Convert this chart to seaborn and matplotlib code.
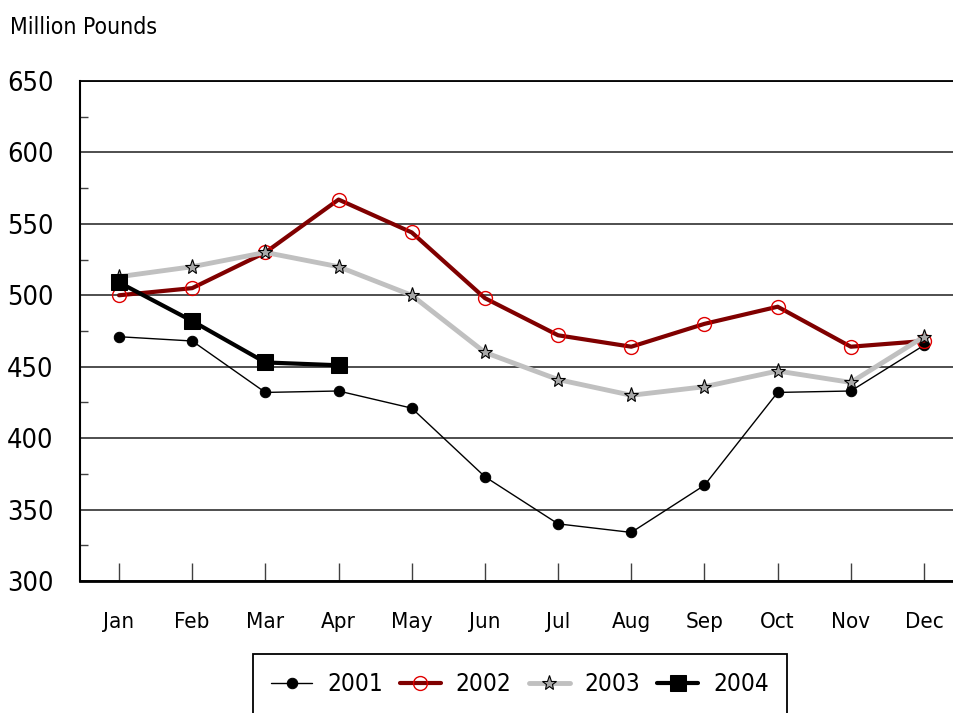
import matplotlib
matplotlib.use("Agg")
import matplotlib.pyplot as plt
import seaborn as sns
import pandas as pd
from matplotlib import font_manager as fm
from matplotlib.ticker import MultipleLocator

months = ["Jan", "Feb", "Mar", "Apr", "May", "Jun", "Jul", "Aug", "Sep", "Oct", "Nov", "Dec"]
v2001 = [471, 468, 432, 433, 421, 373, 340, 334, 367, 432, 433, 465]
v2002 = [500, 505, 530, 567, 544, 498, 472, 464, 480, 492, 464, 468]
v2003 = [513, 520, 530, 520, 500, 460, 441, 430, 436, 447, 439, 471]
v2004 = [509, 482, 453, 451]
yticks = [300, 350, 400, 450, 500, 550, 600, 650]

sns.set_theme(style="white")
files = [f.fname for f in fm.fontManager.ttflist]
def pick(keys):
    for k in keys:
        for f in files:
            if k.lower() in f.lower().replace(" ", ""):
                return f
    return None
path = pick(["LiberationSansNarrow-Regular", "LiberationSansNarrow", "ArialNarrow",
             "DejaVuSansCondensed.ttf", "RobotoCondensed-Regular", "OpenSans_Condensed-Regular",
             "Condensed-Regular", "DejaVuSansCondensed"])
if path:
    fm.fontManager.addfont(path)
    fam = fm.FontProperties(fname=path).get_name()
    cond = True
else:
    fam = "Liberation Sans"
    cond = False
plt.rcParams["font.family"] = [fam, "DejaVu Sans"]
plt.rcParams["text.color"] = "black"
fp = fm.FontProperties(fname=path) if path else fm.FontProperties(family=fam)
s = 1.0 if cond else 0.9

fig = plt.figure(figsize=(9.54, 7.13), dpi=100)
ax = fig.add_axes([80/954, 1-581/713, (954-80)/954, 500/713])

x = list(range(12))
df1 = pd.DataFrame({"m": x, "v": v2001})
df2 = pd.DataFrame({"m": x, "v": v2002})
df3 = pd.DataFrame({"m": x, "v": v2003})
df4 = pd.DataFrame({"m": x[:len(v2004)], "v": v2004})

for yv in yticks:
    ax.axhline(yv, color="#404040", lw=1.3, zorder=1)

sns.lineplot(data=df1, x="m", y="v", ax=ax, color="black", lw=1, marker="o",
             markersize=7.5, markerfacecolor="black", markeredgecolor="black", label="2001", zorder=3)
sns.lineplot(data=df2, x="m", y="v", ax=ax, color="#800000", lw=3, marker="o",
             markersize=10, markerfacecolor="none", markeredgecolor="#e00000", markeredgewidth=1,
             label="2002", zorder=4)
sns.lineplot(data=df3, x="m", y="v", ax=ax, color="#c0c0c0", lw=3.5, marker="*",
             markersize=11, markerfacecolor="#a8a8a8", markeredgecolor="black", markeredgewidth=0.8,
             label="2003", zorder=5)
sns.lineplot(data=df4, x="m", y="v", ax=ax, color="black", lw=3, marker="s",
             markersize=11, markerfacecolor="black", markeredgecolor="black", label="2004", zorder=6)

ax.set_xlim(-0.533, 11.41)
ax.set_ylim(300, 650)
ax.set_yticks(yticks)
ax.yaxis.set_minor_locator(MultipleLocator(25))
ax.set_xticks(x)
ax.set_xticklabels(months)
ax.set_xlabel("")
ax.set_ylabel("")
ax.tick_params(axis="y", which="major", length=0, pad=19)
ax.tick_params(axis="y", which="minor", direction="in", length=6, width=1, color="#404040", left=True)
ax.tick_params(axis="x", which="major", direction="in", length=13, width=1, color="#404040",
               pad=22, bottom=True)
for lab in ax.get_yticklabels():
    lab.set_fontproperties(fp); lab.set_fontsize(19.5 * s); lab.set_color("black")
for lab in ax.get_xticklabels():
    lab.set_fontproperties(fp); lab.set_fontsize(16 * s); lab.set_color("black")

ax.spines["right"].set_visible(False)
ax.spines["top"].set_color("black")
ax.spines["top"].set_linewidth(1.3)
ax.spines["left"].set_color("black")
ax.spines["left"].set_linewidth(1.5)
ax.spines["bottom"].set_color("black")
ax.spines["bottom"].set_linewidth(2)

h, l = ax.get_legend_handles_labels()
ax.get_legend().remove()
lp = fp.copy(); lp.set_size(17.5 * s)
leg = fig.legend(h, l, loc="upper center", bbox_to_anchor=(520/954, 1-654/713), ncol=4,
                 prop=lp, frameon=True, fancybox=False, edgecolor="black", framealpha=1,
                 borderaxespad=0, handlelength=1.7, handletextpad=0.6, columnspacing=0.7,
                 borderpad=0.75)
leg.get_frame().set_linewidth(1.3)
for t in leg.get_texts():
    t.set_color("black")

tp = fp.copy(); tp.set_size(16.5 * s)
fig.text(10/954, 1-34/713, "Million Pounds", fontproperties=tp, va="baseline", ha="left", color="black")

fig.savefig("out.png", dpi=100)
